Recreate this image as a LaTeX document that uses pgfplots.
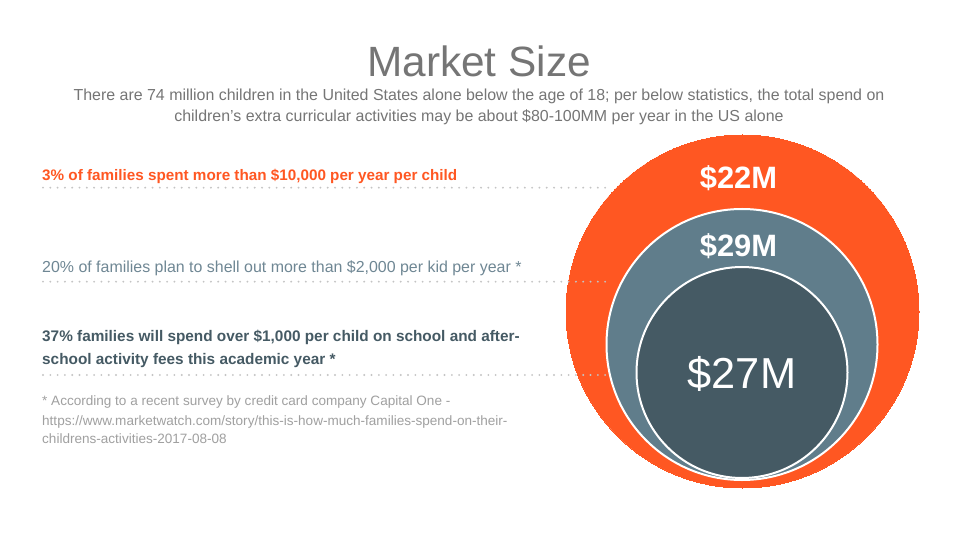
\documentclass[border=0pt]{standalone}
\usepackage{pgfplots}
\pgfplotsset{compat=1.18}
\usepackage{fontspec}
\setmainfont{Liberation Sans}
\definecolor{cOrange}{HTML}{FF5722}
\definecolor{cMid}{HTML}{607D8B}
\definecolor{cDark}{HTML}{455A64}
\definecolor{cTitle}{HTML}{757575}
\definecolor{cText2}{HTML}{6F8794}
\definecolor{cFoot}{HTML}{A0A0A0}
\definecolor{cDot}{HTML}{C4C4C4}
\pgfplotsset{circ/.style={scatter, only marks, mark=*,
  scatter/use mapped color={#1},
  visualization depends on={\thisrow{r} \as \rad},
  scatter/@pre marker code/.append style={/tikz/mark size=\rad bp}}}
\begin{document}
\begin{tikzpicture}
\begin{axis}[
  width=960bp, height=540bp, scale only axis,
  xmin=0, xmax=960, ymin=0, ymax=540, y dir=reverse,
  hide axis, clip=false, clip mode=individual,
  axis background/.style={fill=white},
]
% outer circle
\addplot[circ={draw=cOrange, line width=0pt, fill=cOrange}] table {
x y r
742.5 311.5 176.5
};
% dotted leaders
\addplot[draw=cDot, line width=2.1bp, line cap=round, dash pattern=on 0bp off 7.3bp] coordinates {(43,187.7) (612,187.7)};
\addplot[draw=cDot, line width=2.1bp, line cap=round, dash pattern=on 0bp off 7.3bp] coordinates {(43,281.7) (612,281.7)};
\addplot[draw=cDot, line width=2.1bp, line cap=round, dash pattern=on 0bp off 7.3bp] coordinates {(43,375) (636,375)};
% middle circle
\addplot[circ={draw=white, line width=2bp, fill=cMid}] table {
x y r
742 344.5 135.5
};
% inner circle
\addplot[circ={draw=white, line width=2bp, fill=cDark}] table {
x y r
742 372.5 105.5
};
% circle labels
\node[anchor=base, text=white, font=\fontsize{31}{36}\selectfont\bfseries] at (axis cs:738.5,189) {\$22M};
\node[anchor=base, text=white, font=\fontsize{31}{36}\selectfont\bfseries] at (axis cs:738.5,257) {\$29M};
\node[anchor=base, text=white, font=\fontsize{43.5}{50}\selectfont] at (axis cs:742,388) {\$27M};
% title
\node[anchor=base, text=cTitle, font=\fontsize{42.5}{48}\selectfont] at (axis cs:479,77) {Market Size};
\node[anchor=base, text=cTitle, font=\fontsize{16}{20}\selectfont] at (axis cs:479,101) {There are 74 million children in the United States alone below the age of 18; per below statistics, the total spend on};
\node[anchor=base, text=cTitle, font=\fontsize{16}{20}\selectfont] at (axis cs:479,122) {children’s extra curricular activities may be about \$80-100MM per year in the US alone};
% left texts
\node[anchor=base west, inner sep=0pt, text=cOrange, font=\fontsize{15.3}{20}\selectfont\bfseries] at (axis cs:42,180.7) {3\% of families spent more than \$10,000 per year per child};
\node[anchor=base west, inner sep=0pt, text=cText2, font=\fontsize{16}{20}\selectfont] at (axis cs:42,273) {20\% of families plan to shell out more than \$2,000 per kid per year *};
\node[anchor=base west, inner sep=0pt, text=cDark, font=\fontsize{15.4}{20}\selectfont\bfseries] at (axis cs:42,342) {37\% families will spend over \$1,000 per child on school and after-};
\node[anchor=base west, inner sep=0pt, text=cDark, font=\fontsize{15.4}{20}\selectfont\bfseries] at (axis cs:42,365) {school activity fees this academic year *};
\node[anchor=base west, inner sep=0pt, text=cFoot, font=\fontsize{13.6}{16}\selectfont] at (axis cs:42,405.7) {* According to a recent survey by credit card company Capital One -};
\node[anchor=base west, inner sep=0pt, text=cFoot, font=\fontsize{13.6}{16}\selectfont] at (axis cs:42,425) {https://www.marketwatch.com/story/this-is-how-much-families-spend-on-their-};
\node[anchor=base west, inner sep=0pt, text=cFoot, font=\fontsize{13.6}{16}\selectfont] at (axis cs:42,443) {childrens-activities-2017-08-08};
\end{axis}
\end{tikzpicture}
\end{document}
